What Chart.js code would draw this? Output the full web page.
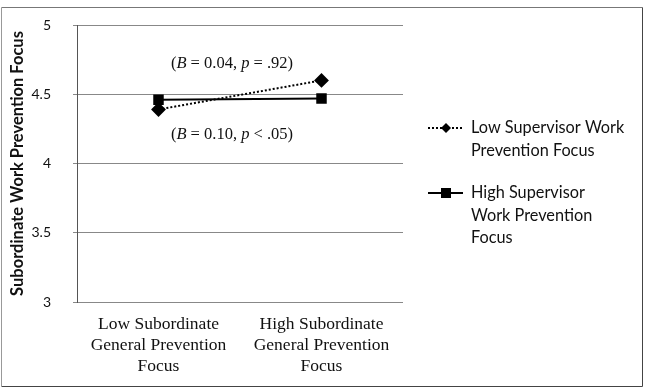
<!DOCTYPE html>
<html><head><meta charset="utf-8">
<script src="https://cdn.jsdelivr.net/npm/chart.js@4/dist/chart.umd.min.js"></script>
<style>html,body{margin:0;padding:0;background:#fff}#wrap{width:646px;height:388px;position:relative}</style>
</head><body><div id="wrap"><canvas id="c" width="646" height="388"></canvas></div>
<script>
const categories = [["Low Subordinate","General Prevention","Focus"],["High Subordinate","General Prevention","Focus"]];
const seriesNames = [["Low Supervisor Work","Prevention Focus"],["High Supervisor","Work Prevention","Focus"]];
const lowSupervisor = [4.39, 4.60];
const highSupervisor = [4.46, 4.47];
const yTicks = [3, 3.5, 4, 4.5, 5];
const annotations = [
  {parts:[["(",""],["B","i"],[" = 0.04, ",""],["p","i"],[" = .92)",""]], y:4.72},
  {parts:[["(",""],["B","i"],[" = 0.10, ",""],["p","i"],[" < .05)",""]], y:4.21}
];
const yTitle = "Subordinate Work Prevention Focus";

const SANS = "Lato, 'Open Sans', sans-serif";
const SERIF = "'Liberation Serif', 'Times New Roman', serif";

const extras = {
  id:'extras',
  afterDraw(chart){
    const ctx = chart.ctx, xs = chart.scales.x, ys = chart.scales.y;
    ctx.save();
    ctx.strokeStyle = '#777'; ctx.lineWidth = 1;
    ctx.beginPath(); ctx.moveTo(1.5,7.5); ctx.lineTo(642.5,7.5); ctx.stroke();
    ctx.strokeStyle = '#444';
    ctx.beginPath(); ctx.moveTo(642.5,7.5); ctx.lineTo(642.5,386.5); ctx.lineTo(1.5,386.5); ctx.stroke();
    ctx.strokeStyle = '#999';
    ctx.beginPath(); ctx.moveTo(1.5,7.5); ctx.lineTo(1.5,386.5); ctx.stroke();
    const cx = (xs.getPixelForValue(0)+xs.getPixelForValue(1))/2 - 8;
    ctx.fillStyle = '#111'; ctx.textBaseline = 'middle';
    annotations.forEach(a=>{
      let w = 0;
      a.parts.forEach(p=>{ctx.font = (p[1]==='i'?'italic ':'')+'16.5px '+SERIF; w += ctx.measureText(p[0]).width;});
      let x = cx - w/2; const y = ys.getPixelForValue(a.y);
      ctx.textAlign='left';
      a.parts.forEach(p=>{ctx.font = (p[1]==='i'?'italic ':'')+'16.5px '+SERIF; ctx.fillText(p[0],x,y); x += ctx.measureText(p[0]).width;});
    });
    const legendItems = [
      {lines:seriesNames[0], y:128, dash:[2,2], style:'diamond'},
      {lines:seriesNames[1], y:193, dash:[], style:'square'}
    ];
    legendItems.forEach(it=>{
      ctx.strokeStyle='#000'; ctx.lineWidth=2; ctx.setLineDash(it.dash);
      ctx.beginPath(); ctx.moveTo(428,it.y); ctx.lineTo(463,it.y); ctx.stroke();
      ctx.setLineDash([]); ctx.fillStyle='#000';
      ctx.beginPath();
      if(it.style==='diamond'){ctx.moveTo(446,it.y-5);ctx.lineTo(451,it.y);ctx.lineTo(446,it.y+5);ctx.lineTo(441,it.y);ctx.closePath();}
      else {ctx.rect(441,it.y-5,10,10);}
      ctx.fill();
      ctx.font = '16.3px '+SANS; ctx.textAlign='left'; ctx.textBaseline='middle'; ctx.fillStyle='#111';
      it.lines.forEach((l,i)=>ctx.fillText(l,471,it.y+i*22.5));
    });
    ctx.restore();
  }
};

new Chart(document.getElementById('c'),{
  type:'line',
  data:{
    labels:categories,
    datasets:[
      {label:seriesNames[0].join(' '), data:lowSupervisor, borderColor:'#000', backgroundColor:'#000', borderWidth:2, borderDash:[2,2], pointStyle:'rectRot', pointRadius:6, pointHoverRadius:6, tension:0},
      {label:seriesNames[1].join(' '), data:highSupervisor, borderColor:'#000', backgroundColor:'#000', borderWidth:2, pointStyle:'rect', pointRadius:6, pointHoverRadius:6, tension:0}
    ]
  },
  options:{
    responsive:false, animation:false, devicePixelRatio:1,
    layout:{padding:{left:8,right:243,top:25,bottom:0}},
    plugins:{legend:{display:false}, tooltip:{enabled:false}},
    scales:{
      x:{
        offset:true,
        grid:{display:false, drawTicks:false},
        border:{display:false},
        ticks:{font:{family:SERIF,size:17.5,lineHeight:1.2}, color:'#111', padding:12, maxRotation:0, autoSkip:false},
        afterFit(s){s.height = 86;}
      },
      y:{
        min:3, max:5,
        afterBuildTicks(s){s.ticks = yTicks.map(v=>({value:v}));},
        grid:{color:'#888', lineWidth:1, tickLength:4, drawTicks:true},
        border:{display:true, color:'#555', width:1},
        ticks:{font:{family:SANS,size:14}, color:'#111', padding:22, callback:v=>String(v)},
        title:{display:true, text:yTitle, font:{family:SANS,size:16.5,weight:'bold'}, color:'#111', padding:{top:0,bottom:10}},
        afterFit(s){s.width = 69; s.paddingTop = 0; s.paddingBottom = 0;}
      }
    }
  },
  plugins:[extras]
});
</script></body></html>
